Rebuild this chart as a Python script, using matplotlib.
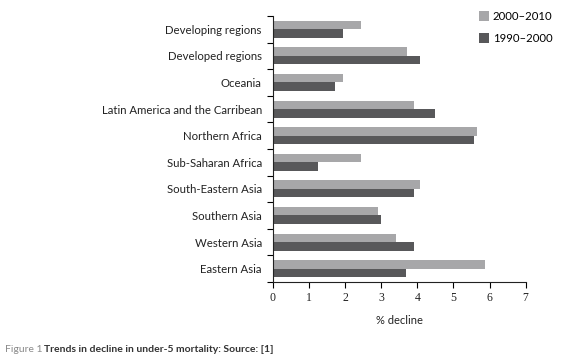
import numpy as np
import matplotlib.pyplot as plt
from matplotlib.ticker import FixedLocator

regions = ["Developing regions", "Developed regions", "Oceania",
           "Latin America and the Carribean", "Northern Africa",
           "Sub-Saharan Africa", "South-Eastern Asia", "Southern Asia",
           "Western Asia", "Eastern Asia"]
decline_2000_2010 = [2.43, 3.70, 1.93, 3.90, 5.65, 2.43, 4.07, 2.90, 3.40, 5.87]
decline_1990_2000 = [1.93, 4.07, 1.71, 4.48, 5.56, 1.24, 3.90, 2.99, 3.90, 3.68]
xticks = [0, 1, 2, 3, 4, 5, 6, 7]

light = "#a7a7a9"
dark = "#58585a"
sans = ["Lato", "DejaVu Sans"]
serif = ["Liberation Serif", "DejaVu Serif"]

fig = plt.figure(figsize=(5.87, 3.62), dpi=100)
ax = fig.add_axes([0.465, 0.221, 0.4305, 0.735])

y = np.arange(len(regions))
h = 0.32
ax.barh(y - h / 2, decline_2000_2010, height=h, color=light, label="2000\u20132010")
ax.barh(y + h / 2, decline_1990_2000, height=h, color=dark, label="1990\u20132000")

ax.set_ylim(len(regions) - 0.5, -0.5)
ax.set_xlim(0, 7)
ax.set_xticks(xticks)
ax.set_xticklabels([str(t) for t in xticks], family=serif, fontsize=8.5, color="#222222")
ax.set_yticks(y)
ax.set_yticklabels(regions, family=sans, fontsize=8.2, color="#222222")
ax.yaxis.set_minor_locator(FixedLocator(np.arange(-0.5, len(regions), 1)))
ax.tick_params(axis="y", which="major", length=0, pad=8)
ax.tick_params(axis="y", which="minor", length=4, width=0.8, direction="out")
ax.tick_params(axis="x", length=4, width=0.8, direction="out", pad=3)

for s in ["top", "right"]:
    ax.spines[s].set_visible(False)
for s in ["left", "bottom"]:
    ax.spines[s].set_linewidth(0.8)
    ax.spines[s].set_color("#222222")

ax.set_xlabel("% decline", family=sans, fontsize=8, color="#222222", labelpad=8)

ax.legend(loc="upper left", bbox_to_anchor=(479 / 587, 1 - 11 / 362),
          bbox_transform=fig.transFigure, frameon=False, handlelength=0.9,
          handleheight=1.0, handletextpad=0.3, labelspacing=0.95,
          borderpad=0, borderaxespad=0, prop={"family": sans, "size": 8.2})

# caption: gray "Figure 1" followed by bold title
cy = 1 - 352 / 362
t1 = fig.text(5 / 587, cy, "Figure 1", family=sans, fontsize=7.5, color="#8a8a8a")
fig.canvas.draw()
bb = t1.get_window_extent(renderer=fig.canvas.get_renderer())
x2 = (bb.x1 + 2) / fig.bbox.width
fig.text(x2, cy, "Trends in decline in under-5 mortality: Source: [1]",
         family=sans, fontsize=7.5, fontweight="bold", color="#333333")

fig.savefig("out.png", dpi=100)
